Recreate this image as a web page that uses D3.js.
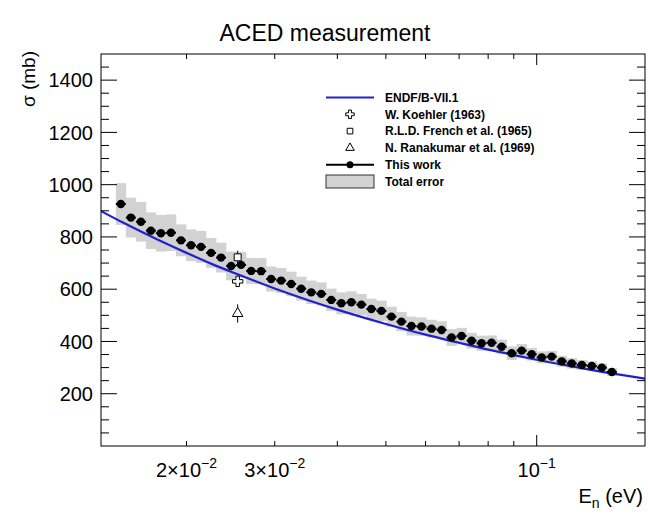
<html>
<head>
<title>ACED measurement</title>
<script src="https://d3js.org/d3.v7.min.js"></script>
<style>
body { margin: 0; background: #fff; }
svg { display: block; font-family: 'Liberation Sans', Arial, Helvetica, sans-serif; }
</style>
</head>
<body>
<div id="plot"></div>
<script>
// ---- data ----
var energies = [0.01479, 0.01549, 0.01622, 0.01698, 0.01778, 0.01862, 0.01950, 0.02042, 0.02138, 0.02239,
                0.02344, 0.02455, 0.02570, 0.02692, 0.02818, 0.02951, 0.03090, 0.03236, 0.03388, 0.03548,
                0.03715, 0.03890, 0.04074, 0.04266, 0.04467, 0.04677, 0.04898, 0.05129, 0.05370, 0.05623,
                0.05888, 0.06166, 0.06457, 0.06761, 0.07079, 0.07413, 0.07762, 0.08128, 0.08511, 0.08913,
                0.09333, 0.09772, 0.10233, 0.10715, 0.11220, 0.11749, 0.12303, 0.12882, 0.13490, 0.14125];
var sigma = [926, 874, 858, 824, 814, 816, 787, 768, 762, 739,
             721, 689, 693, 670, 669, 639, 633, 620, 602, 588,
             582, 559, 546, 550, 541, 524, 517, 495, 476, 459,
             457, 449, 444, 415, 421, 403, 393, 395, 380, 355,
             365, 351, 339, 342, 324, 316, 310, 306, 300, 283];
var sigmaErr = [80, 76, 76, 70, 70, 70, 61, 61, 61, 57,
                57, 55, 50, 50, 50, 48, 48, 47, 46, 45,
                44, 43, 42, 42, 41, 40, 39, 38, 37, 36,
                35, 34, 33, 32, 31, 30, 29, 28, 27, 26,
                25, 24, 23, 22, 21, 20, 19, 18, 16, 15];

var endfE = [0.0135, 0.015, 0.0175, 0.02, 0.0225, 0.025, 0.03, 0.035, 0.04, 0.05,
             0.06, 0.07, 0.08, 0.09, 0.1, 0.12, 0.14, 0.1645];
var endfSigma = [899, 853, 790, 739, 696, 661, 603, 558, 522, 467,
                 426, 395, 369, 348, 330, 302, 279, 258];

var refLabels = ["W. Koehler (1963)", "R.L.D. French et al. (1965)", "N. Ranakumar et al. (1969)"];
var refE = [0.0253, 0.0253, 0.0253];
var refSigma = [630, 722, 507];
var refErr = [20, 25, 35];
var refSymbols = [d3.symbolCross, d3.symbolSquare, d3.symbolTriangle];

var yTicks = [200, 400, 600, 800, 1000, 1200, 1400];
var xMinorTicks = [0.02, 0.03, 0.04, 0.05, 0.06, 0.07, 0.08, 0.09];
var xMajorTicks = [0.1];
var xTickLabels = [{v: 0.02, m: "2\u00d710", e: "\u22122"},
                   {v: 0.03, m: "3\u00d710", e: "\u22122"},
                   {v: 0.1, m: "10", e: "\u22121"}];

// ---- layout ----
var svg = d3.select("#plot").append("svg")
    .attr("width", 648).attr("height", 514);

var margin = {top: 54, right: 3, bottom: 68, left: 101},
    width = +svg.attr("width") - margin.left - margin.right,
    height = +svg.attr("height") - margin.top - margin.bottom,
    g = svg.append("g").attr("transform", "translate(" + margin.left + "," + margin.top + ")");

var x = d3.scaleLog().domain([0.0135, 0.1645]).range([0, width]);
var y = d3.scaleLinear().domain([0, 1500]).range([height, 0]);

svg.append("defs").append("clipPath").attr("id", "clip")
  .append("rect").attr("width", width).attr("height", height);

var plot = g.append("g").attr("clip-path", "url(#clip)");

// half bin width in log space
var hb = Math.pow(10, 0.01);

// total error boxes
plot.selectAll("rect.err")
    .data(energies)
  .enter().append("rect")
    .attr("class", "err")
    .attr("x", function(d) { return x(d / hb); })
    .attr("width", function(d) { return x(d * hb) - x(d / hb) + 0.3; })
    .attr("y", function(d, i) { return y(sigma[i] + sigmaErr[i]); })
    .attr("height", function(d, i) { return y(sigma[i] - sigmaErr[i]) - y(sigma[i] + sigmaErr[i]); })
    .attr("fill", "#d2d2d2");

// ENDF curve
var line = d3.line()
    .x(function(d) { return x(d[0]); })
    .y(function(d) { return y(d[1]); })
    .curve(d3.curveMonotoneX);

plot.append("path")
    .datum(d3.zip(endfE, endfSigma))
    .attr("fill", "none")
    .attr("stroke", "#2020d0")
    .attr("stroke-width", 2.2)
    .attr("d", line);

// this work: x error bars + dots
plot.selectAll("line.xerr")
    .data(energies)
  .enter().append("line")
    .attr("x1", function(d) { return x(d / hb); })
    .attr("x2", function(d) { return x(d * hb); })
    .attr("y1", function(d, i) { return y(sigma[i]); })
    .attr("y2", function(d, i) { return y(sigma[i]); })
    .attr("stroke", "black").attr("stroke-width", 2);

plot.selectAll("circle.pt")
    .data(energies)
  .enter().append("circle")
    .attr("cx", function(d) { return x(d); })
    .attr("cy", function(d, i) { return y(sigma[i]); })
    .attr("r", 4.2)
    .attr("fill", "black");

// older measurements
refE.forEach(function(e, i) {
  plot.append("line")
      .attr("x1", x(e)).attr("x2", x(e))
      .attr("y1", y(refSigma[i] - refErr[i])).attr("y2", y(refSigma[i] + refErr[i]))
      .attr("stroke", "black").attr("stroke-width", 1);
  plot.append("path")
      .attr("d", d3.symbol().type(refSymbols[i]).size(i == 0 ? 60 : 48)())
      .attr("transform", "translate(" + x(e) + "," + y(refSigma[i]) + ")")
      .attr("fill", "white").attr("stroke", "black").attr("stroke-width", 1);
});

// frame
g.append("rect").attr("width", width).attr("height", height)
    .attr("fill", "none").attr("stroke", "black").attr("stroke-width", 1);

// y ticks (both sides, inside)
var yMinor = d3.range(50, 1500, 50).filter(function(v) { return v % 200 != 0; });
function yTickLines(vals, len) {
  vals.forEach(function(v) {
    g.append("line").attr("x1", 0).attr("x2", len).attr("y1", y(v)).attr("y2", y(v))
        .attr("stroke", "black");
    g.append("line").attr("x1", width).attr("x2", width - len).attr("y1", y(v)).attr("y2", y(v))
        .attr("stroke", "black");
  });
}
yTickLines(yTicks, 16);
yTickLines(yMinor, 8);

// x ticks (bottom and top, inside)
function xTickLines(vals, len) {
  vals.forEach(function(v) {
    g.append("line").attr("x1", x(v)).attr("x2", x(v)).attr("y1", height).attr("y2", height - len)
        .attr("stroke", "black");
    g.append("line").attr("x1", x(v)).attr("x2", x(v)).attr("y1", 0).attr("y2", len)
        .attr("stroke", "black");
  });
}
xTickLines(xMinorTicks, 5);
xTickLines(xMajorTicks, 11);

// y tick labels
g.selectAll("text.ylab")
    .data(yTicks)
  .enter().append("text")
    .attr("x", -8).attr("y", function(d) { return y(d); })
    .attr("dy", "0.36em")
    .attr("text-anchor", "end")
    .attr("font-size", 20)
    .text(function(d) { return d; });

// x tick labels with exponents
xTickLabels.forEach(function(t) {
  var tx = g.append("text")
      .attr("x", x(t.v)).attr("y", height + 31)
      .attr("text-anchor", "middle")
      .attr("font-size", 20);
  tx.append("tspan").text(t.m);
  tx.append("tspan").attr("dy", -9).attr("font-size", 14).text(t.e);
});

// axis titles
svg.append("text")
    .attr("x", 643).attr("y", 503)
    .attr("text-anchor", "end")
    .attr("font-size", 20)
    .call(function(t) {
      t.append("tspan").text("E");
      t.append("tspan").attr("dy", 5).attr("font-size", 14).text("n");
      t.append("tspan").attr("dy", -5).text(" (eV)");
    });

svg.append("text")
    .attr("text-anchor", "end")
    .attr("font-size", 19)
    .attr("transform", "translate(35,51)rotate(-90)")
    .text("\u03c3 (mb)");

// title
svg.append("text")
    .attr("x", 325).attr("y", 41)
    .attr("text-anchor", "middle")
    .attr("font-size", 23)
    .text("ACED measurement");

// legend
var leg = svg.append("g").attr("transform", "translate(326,97.5)");
var rowH = 16.8;
var legLabels = ["ENDF/B-VII.1"].concat(refLabels).concat(["This work", "Total error"]);

leg.append("line").attr("x1", 0).attr("x2", 48).attr("y1", 0).attr("y2", 0)
    .attr("stroke", "#2020d0").attr("stroke-width", 2.2);
refSymbols.forEach(function(s, i) {
  leg.append("path")
      .attr("d", d3.symbol().type(s).size(i == 0 ? 40 : 32)())
      .attr("transform", "translate(24," + (rowH * (i + 1)) + ")")
      .attr("fill", "white").attr("stroke", "black").attr("stroke-width", 1);
});
leg.append("line").attr("x1", 0).attr("x2", 48).attr("y1", rowH * 4).attr("y2", rowH * 4)
    .attr("stroke", "black").attr("stroke-width", 2);
leg.append("circle").attr("cx", 24).attr("cy", rowH * 4).attr("r", 3.5).attr("fill", "black");
leg.append("rect").attr("x", 0).attr("y", rowH * 5 - 6.5).attr("width", 48).attr("height", 13)
    .attr("fill", "#d2d2d2").attr("stroke", "#333").attr("stroke-width", 1);

leg.selectAll("text")
    .data(legLabels)
  .enter().append("text")
    .attr("x", 59).attr("y", function(d, i) { return rowH * i; })
    .attr("dy", "0.36em")
    .attr("font-size", 12)
    .attr("font-weight", "bold")
    .text(function(d) { return d; });
</script>
</body>
</html>
